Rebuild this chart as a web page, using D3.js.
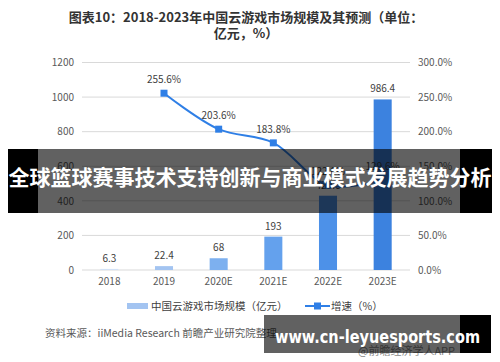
<!DOCTYPE html>
<html>
<head>
<meta charset="utf-8">
<script src="https://cdn.jsdelivr.net/npm/d3@7"></script>
<style>
  body { margin: 0; background: #fff; }
  svg { display: block; font-family: "Noto Sans CJK SC", "Noto Sans", sans-serif; }
</style>
</head>
<body>
<div id="container"></div>
<script>
const years = ["2018", "2019", "2020E", "2021E", "2022E", "2023E"]
const marketSize = [6.3, 22.4, 68, 193, 429.6, 986.4]
const sizeLabels = ["6.3", "22.4", "68", "193", "429.6", "986.4"]
const growth = [null, 255.6, 203.6, 183.8, 122.6, 129.6]
const barColors = ["#d3e2f6", "#a3c4f1", "#7db0ef", "#64a1ed", "#4d91e8", "#3c82df"]
const leftTicks = [0, 200, 400, 600, 800, 1000, 1200]
const rightTicks = [0, 50, 100, 150, 200, 250, 300]

const width = 500, height = 362

const svg = d3.select("div#container").append("svg")
    .attr("width", width)
    .attr("height", height)

const xScale = d3.scaleBand().domain(years).range([82, 410])
    .paddingInner(0.67).paddingOuter(0.335)
const yLeft = d3.scaleLinear().domain([0, 1200]).range([270, 62.5])
const yRight = d3.scaleLinear().domain([0, 300]).range([270, 62.5])
const cx = d => xScale(d) + xScale.bandwidth() / 2

// title
const title = svg.append("text")
    .attr("text-anchor", "middle")
    .style("font-size", "13px")
    .style("font-weight", "bold")
    .attr("fill", "#333")
title.append("tspan").attr("x", 246).attr("y", 22).text("图表10：2018-2023年中国云游戏市场规模及其预测（单位：")
title.append("tspan").attr("x", 246).attr("y", 38).text("亿元，%）")

// gridlines
svg.append("g").selectAll("line")
    .data(leftTicks)
    .join("line")
    .attr("x1", 82).attr("x2", 410)
    .attr("y1", d => yLeft(d)).attr("y2", d => yLeft(d))
    .attr("stroke", "#d9d9d9")
    .attr("stroke-width", 1)

// left axis
const axisL = svg.append("g")
    .attr("transform", "translate(74,0)")
    .call(d3.axisLeft(yLeft).tickValues(leftTicks).tickSize(0).tickPadding(0).tickFormat(d3.format("d")))
axisL.select(".domain").remove()
axisL.selectAll("text").style("font-size", "10px").attr("fill", "#595959").attr("font-family", "Noto Sans CJK SC")

// right axis
const axisR = svg.append("g")
    .attr("transform", "translate(418,0)")
    .call(d3.axisRight(yRight).tickValues(rightTicks).tickSize(0).tickPadding(0).tickFormat(d => d.toFixed(1) + "%"))
axisR.select(".domain").remove()
axisR.selectAll("text").style("font-size", "10px").attr("fill", "#595959").attr("font-family", "Noto Sans CJK SC")

// x axis
const axisX = svg.append("g")
    .attr("transform", "translate(0,278)")
    .call(d3.axisBottom(xScale).tickSize(0).tickPadding(0))
axisX.select(".domain").remove()
axisX.selectAll("text").style("font-size", "10px").attr("fill", "#595959").attr("font-family", "Noto Sans CJK SC")

// bars
svg.append("g").selectAll("rect")
    .data(years)
    .join("rect")
    .attr("x", d => xScale(d))
    .attr("width", xScale.bandwidth())
    .attr("y", (d, i) => yLeft(marketSize[i]))
    .attr("height", (d, i) => yLeft(0) - yLeft(marketSize[i]))
    .attr("fill", (d, i) => barColors[i])

svg.append("g").selectAll("text")
    .data(years)
    .join("text")
    .attr("x", d => cx(d))
    .attr("y", (d, i) => yLeft(marketSize[i]) - 7)
    .attr("text-anchor", "middle")
    .style("font-size", "10px")
    .attr("fill", "#404040")
    .text((d, i) => sizeLabels[i])

// growth line
const pts = years.map((d, i) => ({ year: d, v: growth[i] })).filter(p => p.v !== null)

svg.append("path")
    .datum(pts)
    .attr("fill", "none")
    .attr("stroke", "#2f7fe6")
    .attr("stroke-width", 2)
    .attr("d", d3.line()
        .curve(d3.curveCatmullRom.alpha(0.5))
        .x(p => cx(p.year))
        .y(p => yRight(p.v)))

svg.append("g").selectAll("rect")
    .data(pts)
    .join("rect")
    .attr("x", p => cx(p.year) - 3.5)
    .attr("y", p => yRight(p.v) - 3.5)
    .attr("width", 7).attr("height", 7)
    .attr("fill", "#2f7fe6")

svg.append("g").selectAll("text")
    .data(pts)
    .join("text")
    .attr("x", p => cx(p.year))
    .attr("y", p => yRight(p.v) - 10)
    .attr("text-anchor", "middle")
    .style("font-size", "10px")
    .attr("fill", "#404040")
    .text(p => p.v.toFixed(1) + "%")

// legend
svg.append("rect").attr("x", 127).attr("y", 303).attr("width", 21).attr("height", 6).attr("fill", "#a3c4f1")
svg.append("text").attr("x", 151).attr("y", 310).style("font-size", "10.5px").attr("fill", "#404040")
    .text("中国云游戏市场规模（亿元）")
svg.append("line").attr("x1", 305).attr("x2", 330).attr("y1", 306).attr("y2", 306)
    .attr("stroke", "#2f7fe6").attr("stroke-width", 2)
svg.append("rect").attr("x", 314).attr("y", 302.5).attr("width", 7).attr("height", 7).attr("fill", "#2f7fe6")
svg.append("text").attr("x", 331).attr("y", 310).style("font-size", "10.5px").attr("fill", "#404040")
    .text("增速（%）")

// source
svg.append("text").attr("x", 45).attr("y", 337).style("font-size", "10.5px").attr("fill", "#595959")
    .text("资料来源：iiMedia Research  前瞻产业研究院整理")
svg.append("text").attr("x", 358).attr("y", 355).style("font-size", "11px").attr("fill", "#8c8c8c")
    .text("@前瞻经济学人APP")

// banner overlay
svg.append("rect").attr("x", 8).attr("y", 149).attr("width", 30).attr("height", 64).attr("fill", "#000")
svg.append("rect").attr("x", 460).attr("y", 149).attr("width", 32).attr("height", 64).attr("fill", "#000")
svg.append("rect").attr("x", 38).attr("y", 149).attr("width", 422).attr("height", 64).attr("fill", "rgba(0,0,0,0.62)")
svg.append("text")
    .attr("x", 250).attr("y", 185)
    .attr("text-anchor", "middle")
    .style("font-size", "21px")
    .style("font-weight", "bold")
    .attr("fill", "#fff")
    .text("全球篮球赛事技术支持创新与商业模式发展趋势分析")

// site overlay
svg.append("rect").attr("x", 460).attr("y", 315).attr("width", 31).attr("height", 38).attr("fill", "#000")
svg.append("rect").attr("x", 264).attr("y", 315).attr("width", 196).attr("height", 38).attr("fill", "rgba(0,0,0,0.62)")
svg.append("text")
    .attr("x", 275).attr("y", 343)
    .attr("textLength", 205)
    .attr("lengthAdjust", "spacingAndGlyphs")
    .style("font-size", "18px")
    .style("font-weight", "bold")
    .style("font-family", "DejaVu Sans")
    .attr("fill", "#fff")
    .text("www.cn-leyuesports.com")
</script>
</body>
</html>
